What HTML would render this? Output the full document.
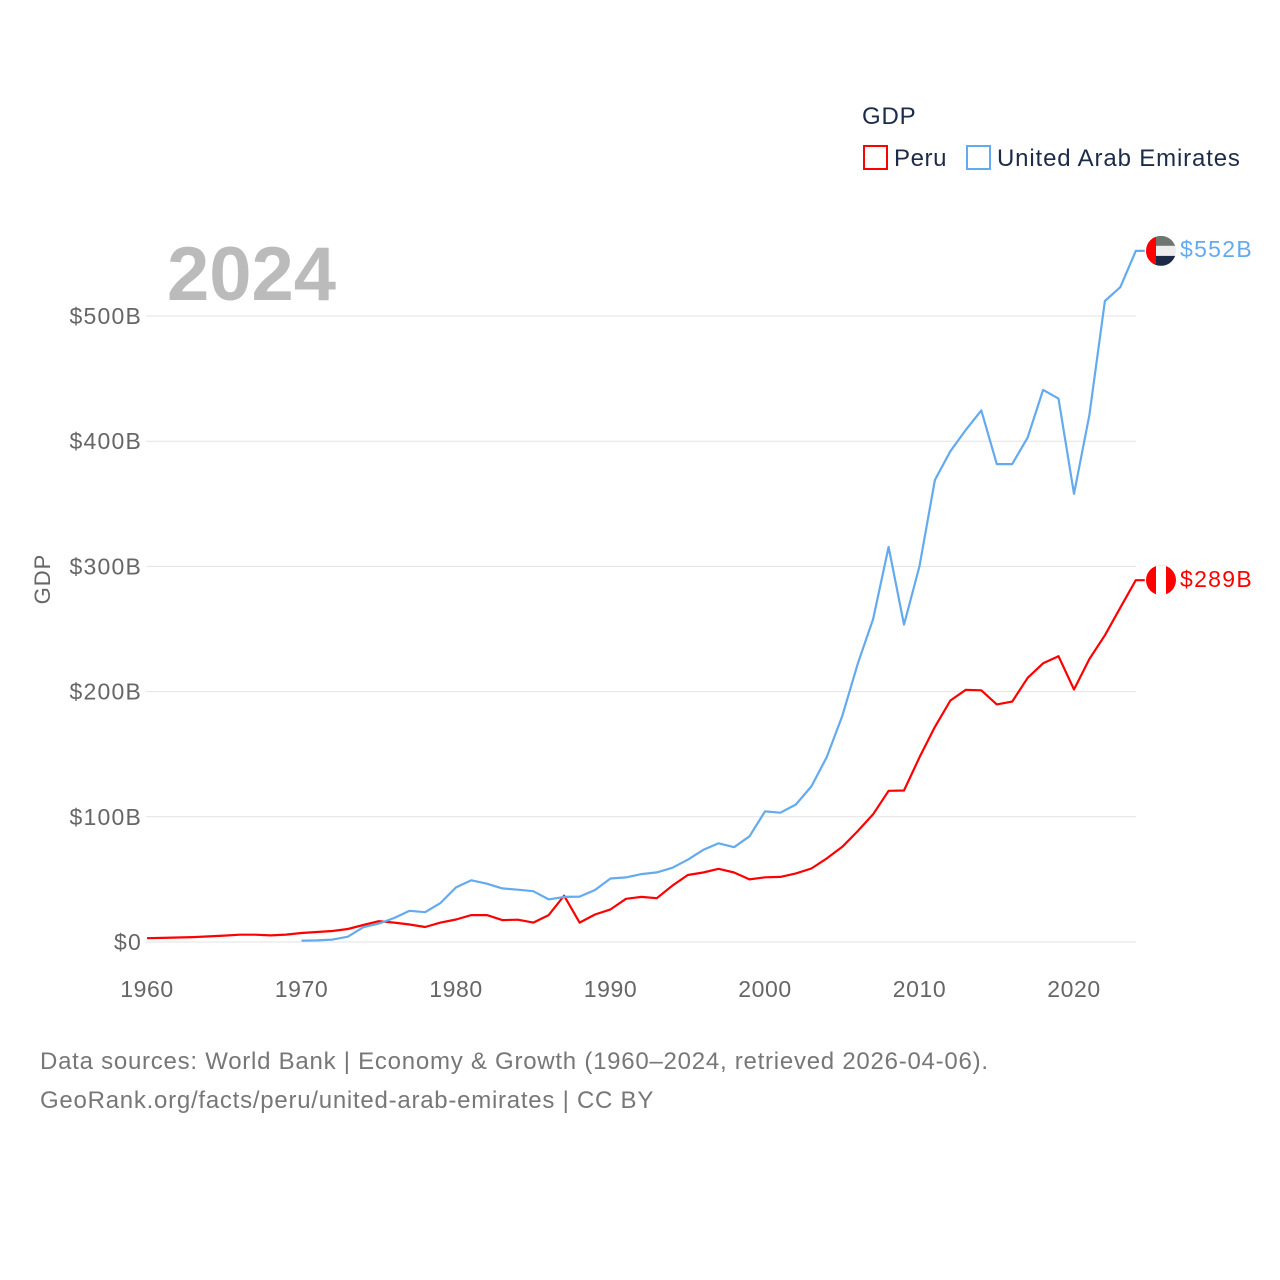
<!DOCTYPE html>
<html><head><meta charset="utf-8"><style>
body{margin:0;background:#fff;width:1280px;height:1280px;overflow:hidden;font-family:"Liberation Sans",sans-serif}
svg{display:block}
</style></head><body>
<svg width="1280" height="1280" viewBox="0 0 1280 1280">
<g id="grid"></g>
<g id="yt"></g>
<g id="xt"></g>
<text x="50" y="579" transform="rotate(-90 50 579)" text-anchor="middle" font-size="22" letter-spacing="1" fill="#666">GDP</text>
<text x="167" y="300" font-size="76" font-weight="bold" fill="#bbb">2024</text>
<g>
<text x="862" y="124" font-size="24" letter-spacing="0.8" fill="#1c2b4a">GDP</text>
<g><rect x="864" y="146" width="23" height="23" fill="none" stroke="#f00" stroke-width="2"/><text x="894" y="166" font-size="24" letter-spacing="0.6" fill="#1c2b4a">Peru</text></g>
<g><rect x="967" y="146" width="23" height="23" fill="none" stroke="#64aaee" stroke-width="2"/><text x="997" y="166" font-size="24" letter-spacing="0.85" fill="#1c2b4a">United Arab Emirates</text></g>
</g>
<path id="peru" fill="none" stroke="#f00" stroke-width="2.2" stroke-linejoin="round"/>
<path id="uae" fill="none" stroke="#64aaee" stroke-width="2.2" stroke-linejoin="round"/>
<g id="ends"></g>
<text x="40" y="1069" font-size="24" letter-spacing="0.75" fill="#777">Data sources: World Bank | Economy &amp; Growth (1960–2024, retrieved 2026-04-06).</text>
<text x="40" y="1108" font-size="24" letter-spacing="0.75" fill="#777">GeoRank.org/facts/peru/united-arab-emirates | CC BY</text>
</svg>
<script>
const peruStart=1960;
const peruValues=[3,3.3,3.6,3.9,4.5,5.1,5.8,5.8,5.3,5.9,7.2,8,8.8,10.4,13.6,16.6,15.5,14,12,15.5,18,21.5,21.5,17.5,17.8,15.5,21.5,37,15.5,22,26,34.5,36,35,45,53.5,55.5,58.5,55.5,50,51.7,52,54.8,58.7,66.8,76,88.6,102,120.8,121,147.5,171.8,192.9,201.4,201,189.8,192,211,222.6,228.3,201.7,226,245,267,289];
const uaeStart=1970;
const uaeValues=[1,1.3,1.9,4.2,11.8,14.7,19.2,24.9,23.8,31.2,43.6,49.3,46.6,42.8,41.8,40.6,34,36,36.3,41.5,50.7,51.6,54.2,55.6,59.3,65.7,73.6,78.8,75.7,84.4,104.3,103.3,109.8,124.3,147.8,180.6,222.1,257.9,315.5,253.5,300.2,369,392,409,424.6,381.7,381.7,403,441,434,358,421,512,523,552];
const yTicks=[0,100,200,300,400,500];
const yTickLabels=["$0","$100B","$200B","$300B","$400B","$500B"];
const xTicks=[1960,1970,1980,1990,2000,2010,2020];
const endLabels=["$289B","$552B"];
const NS="http://www.w3.org/2000/svg";
const X=y=>147+(y-1960)*(927/60);
const Y=v=>942-v*1.252;
function mk(t,a,p){const e=document.createElementNS(NS,t);for(const k in a)e.setAttribute(k,a[k]);p.appendChild(e);return e;}
const grid=document.getElementById('grid'),yt=document.getElementById('yt'),xt=document.getElementById('xt');
yTicks.forEach((v,i)=>{
 const l=mk('line',{x1:146,x2:1136,y1:Y(v),y2:Y(v),stroke:'#e3e3e3','stroke-width':1},grid);
 
 
 const t=mk('text',{x:142,y:Y(v)+8,'text-anchor':'end','font-size':23,'letter-spacing':1.2,fill:'#666'},yt);
 t.textContent=yTickLabels[i];
 
 
});
xTicks.forEach(y=>{
 const t=mk('text',{x:X(y),y:997,'text-anchor':'middle','font-size':23,'letter-spacing':0.6,fill:'#666'},xt);
 t.textContent=y;
 
 
});
function path(start,vals){let d='';vals.forEach((v,i)=>{d+=(i?'L':'M')+X(start+i).toFixed(1)+','+Y(v).toFixed(1);});const last=vals[vals.length-1];d+='L'+(X(start+vals.length-1)+9)+','+Y(last).toFixed(1);return d;}
document.getElementById('peru').setAttribute('d',path(peruStart,peruValues));
document.getElementById('uae').setAttribute('d',path(uaeStart,uaeValues));
const ends=document.getElementById('ends');
const py=Y(peruValues[peruValues.length-1]);
const pg=mk('g',{},ends);


const cp1=mk('clipPath',{id:'cp1'},pg);mk('circle',{cx:1161,cy:py,r:15},cp1);
const f1=mk('g',{'clip-path':'url(#cp1)'},pg);
mk('rect',{x:1146,y:py-15,width:30,height:30,fill:'#f00'},f1);
mk('rect',{x:1156,y:py-15,width:10,height:30,fill:'#fff'},f1);
const pt=mk('text',{x:1180,y:py+7,'font-size':23,'letter-spacing':1.3,fill:'#f00'},ends);
pt.textContent=endLabels[0];


const uy=Y(uaeValues[uaeValues.length-1]);
const ug=mk('g',{},ends);


const cp2=mk('clipPath',{id:'cp2'},ug);mk('circle',{cx:1161,cy:uy,r:15},cp2);
const f2=mk('g',{'clip-path':'url(#cp2)'},ug);
mk('rect',{x:1146,y:uy-15,width:30,height:10,fill:'#6f7670'},f2);
mk('rect',{x:1146,y:uy-5,width:30,height:10,fill:'#eee'},f2);
mk('rect',{x:1146,y:uy+5,width:30,height:10,fill:'#1b2a47'},f2);
mk('rect',{x:1146,y:uy-15,width:10,height:30,fill:'#f00'},f2);
const ut=mk('text',{x:1180,y:uy+6,'font-size':23,'letter-spacing':1.3,fill:'#64aaee'},ends);
ut.textContent=endLabels[1];


</script>
</body></html>
